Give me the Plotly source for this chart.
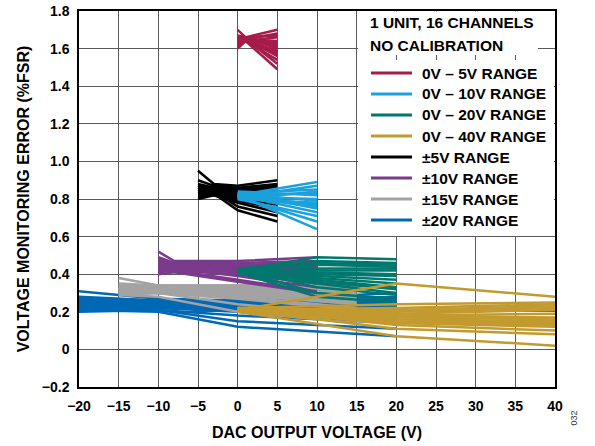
import plotly.graph_objects as go

# ---- measured error (%FSR) per output range, 16 channels each ----
X_0_5 = [0, 1, 5]
Y_0_5 = [
    [1.63, 1.66, 1.70], [1.66, 1.65, 1.68], [1.70, 1.66, 1.67], [1.62, 1.64, 1.66],
    [1.64, 1.65, 1.64], [1.61, 1.64, 1.63], [1.65, 1.66, 1.62], [1.63, 1.65, 1.61],
    [1.67, 1.66, 1.60], [1.62, 1.64, 1.59], [1.64, 1.65, 1.58], [1.60, 1.64, 1.57],
    [1.66, 1.65, 1.56], [1.63, 1.64, 1.54], [1.65, 1.65, 1.52], [1.62, 1.64, 1.49],
]

X_0_10 = [0, 10]
Y_0_10 = [
    [0.82, 0.89], [0.81, 0.87], [0.83, 0.85], [0.80, 0.84],
    [0.82, 0.83], [0.84, 0.82], [0.81, 0.80], [0.83, 0.79],
    [0.80, 0.78], [0.82, 0.77], [0.81, 0.76], [0.83, 0.75],
    [0.82, 0.73], [0.80, 0.71], [0.81, 0.68], [0.82, 0.64],
]

X_0_20 = [0, 10, 20]
Y_0_20 = [
    [0.42, 0.49, 0.48], [0.41, 0.47, 0.46], [0.43, 0.46, 0.45], [0.42, 0.45, 0.44],
    [0.41, 0.43, 0.43], [0.42, 0.42, 0.42], [0.43, 0.41, 0.40], [0.41, 0.40, 0.39],
    [0.42, 0.39, 0.37], [0.40, 0.38, 0.35], [0.41, 0.37, 0.33], [0.42, 0.36, 0.32],
    [0.41, 0.35, 0.30], [0.43, 0.33, 0.29], [0.42, 0.30, 0.27], [0.41, 0.28, 0.25],
]

X_0_40 = [0, 20, 40]
Y_0_40 = [
    [0.21, 0.35, 0.28], [0.22, 0.24, 0.25], [0.21, 0.22, 0.24], [0.20, 0.21, 0.23],
    [0.21, 0.20, 0.22], [0.22, 0.19, 0.21], [0.21, 0.18, 0.19], [0.20, 0.18, 0.17],
    [0.21, 0.17, 0.16], [0.22, 0.16, 0.15], [0.21, 0.15, 0.14], [0.20, 0.15, 0.13],
    [0.21, 0.14, 0.12], [0.22, 0.13, 0.10], [0.21, 0.11, 0.08], [0.20, 0.07, 0.02],
]

X_PM5 = [-5, -3, 0, 5]
Y_PM5 = [
    [0.95, 0.88, 0.87, 0.90], [0.90, 0.87, 0.86, 0.88], [0.88, 0.86, 0.85, 0.87], [0.87, 0.86, 0.85, 0.86],
    [0.86, 0.85, 0.84, 0.85], [0.85, 0.85, 0.84, 0.84], [0.84, 0.84, 0.83, 0.83], [0.83, 0.84, 0.83, 0.82],
    [0.82, 0.83, 0.82, 0.81], [0.81, 0.83, 0.82, 0.80], [0.86, 0.84, 0.81, 0.79], [0.84, 0.83, 0.80, 0.77],
    [0.82, 0.82, 0.79, 0.75], [0.80, 0.82, 0.78, 0.73], [0.87, 0.84, 0.76, 0.71], [0.85, 0.83, 0.74, 0.68],
]

X_PM10 = [-10, -8, 0, 10]
Y_PM10 = [
    [0.52, 0.47, 0.47, 0.49], [0.49, 0.46, 0.46, 0.47], [0.47, 0.46, 0.45, 0.46], [0.46, 0.45, 0.45, 0.45],
    [0.45, 0.45, 0.44, 0.44], [0.44, 0.44, 0.44, 0.43], [0.43, 0.44, 0.43, 0.42], [0.42, 0.43, 0.43, 0.41],
    [0.48, 0.45, 0.42, 0.40], [0.46, 0.44, 0.42, 0.39], [0.44, 0.44, 0.41, 0.38], [0.43, 0.43, 0.41, 0.37],
    [0.41, 0.42, 0.40, 0.35], [0.45, 0.43, 0.39, 0.33], [0.42, 0.42, 0.37, 0.31], [0.40, 0.41, 0.36, 0.30],
]

X_PM15 = [-15, -10, 0, 15]
Y_PM15 = [
    [0.38, 0.34, 0.34, 0.35], [0.35, 0.34, 0.34, 0.34], [0.34, 0.33, 0.33, 0.33], [0.33, 0.33, 0.33, 0.32],
    [0.33, 0.32, 0.32, 0.31], [0.32, 0.32, 0.32, 0.30], [0.31, 0.32, 0.31, 0.29], [0.31, 0.31, 0.31, 0.28],
    [0.30, 0.31, 0.30, 0.27], [0.32, 0.31, 0.30, 0.26], [0.30, 0.30, 0.29, 0.25], [0.31, 0.30, 0.29, 0.24],
    [0.29, 0.30, 0.28, 0.22], [0.30, 0.30, 0.27, 0.21], [0.32, 0.30, 0.24, 0.18], [0.29, 0.28, 0.20, 0.14],
]

X_PM20 = [-20, -10, 0, 20]
Y_PM20 = [
    [0.31, 0.27, 0.26, 0.30], [0.28, 0.26, 0.26, 0.28], [0.27, 0.26, 0.25, 0.27], [0.26, 0.25, 0.25, 0.26],
    [0.25, 0.25, 0.24, 0.25], [0.25, 0.24, 0.24, 0.24], [0.24, 0.24, 0.24, 0.23], [0.23, 0.24, 0.23, 0.22],
    [0.23, 0.23, 0.23, 0.21], [0.22, 0.23, 0.22, 0.20], [0.24, 0.23, 0.22, 0.19], [0.21, 0.22, 0.21, 0.18],
    [0.22, 0.22, 0.20, 0.16], [0.20, 0.21, 0.18, 0.14], [0.23, 0.21, 0.15, 0.11], [0.21, 0.20, 0.12, 0.07],
]

X_TICKS = [-20, -15, -10, -5, 0, 5, 10, 15, 20, 25, 30, 35, 40]
Y_TICKS = [-0.2, 0, 0.2, 0.4, 0.6, 0.8, 1.0, 1.2, 1.4, 1.6, 1.8]
Y_TICK_TEXT = ["\u22120.2", "0", "0.2", "0.4", "0.6", "0.8", "1.0", "1.2", "1.4", "1.6", "1.8"]

LEGEND_TITLE = ["1 UNIT, 16 CHANNELS", "NO CALIBRATION"]

# (name, x, channels, colour); listed in drawing order
RANGES = [
    ("\u00b120V RANGE", X_PM20, Y_PM20, "#0068B4"),
    ("\u00b115V RANGE", X_PM15, Y_PM15, "#A3A3A3"),
    ("\u00b110V RANGE", X_PM10, Y_PM10, "#7B3B8C"),
    ("\u00b15V RANGE", X_PM5, Y_PM5, "#000000"),
    ("0V \u2013 5V RANGE", X_0_5, Y_0_5, "#A51B4A"),
    ("0V \u2013 10V RANGE", X_0_10, Y_0_10, "#1BA1DB"),
    ("0V \u2013 20V RANGE", X_0_20, Y_0_20, "#00786E"),
    ("0V \u2013 40V RANGE", X_0_40, Y_0_40, "#C39A2F"),
]
LEGEND_ORDER = [
    "0V \u2013 5V RANGE", "0V \u2013 10V RANGE", "0V \u2013 20V RANGE", "0V \u2013 40V RANGE",
    "\u00b15V RANGE", "\u00b110V RANGE", "\u00b115V RANGE", "\u00b120V RANGE",
]

FONT = "Liberation Sans, Arial, sans-serif"
W, H = 595, 446
ML, MR, MT, MB = 79, 40, 11, 59
PW, PH = W - ML - MR, H - MT - MB


def px(xpix):
    """pixel column -> paper x"""
    return (xpix - ML) / PW


def py(ypix):
    """pixel row -> paper y"""
    return (H - MB - ypix) / PH


fig = go.Figure()
for name, xs, channels, colour in RANGES:
    for ys in channels:
        fig.add_trace(go.Scatter(
            x=xs, y=ys, mode="lines", name=name,
            line=dict(color=colour, width=2.5),
            showlegend=False, hoverinfo="skip",
        ))

axis_common = dict(
    automargin=False,
    showgrid=True, gridcolor="#5a5a5a", gridwidth=1,
    zeroline=False, showline=True, linecolor="#000000", linewidth=1.5,
    mirror=True, ticks="outside", ticklen=5, tickcolor="rgba(0,0,0,0)",
    tickfont=dict(family=FONT, size=14, color="#000000", weight="bold"),
)

fig.update_layout(
    width=W, height=H,
    margin=dict(l=ML, r=MR, t=MT, b=MB),
    paper_bgcolor="#ffffff", plot_bgcolor="#ffffff",
    showlegend=False,
    xaxis=dict(
        range=[-20, 40], tickvals=X_TICKS,
        title=dict(text="DAC OUTPUT VOLTAGE (V)", standoff=14,
                   font=dict(family=FONT, size=16, color="#000000", weight="bold")),
        **axis_common,
    ),
    yaxis=dict(
        range=[-0.2, 1.8], tickvals=Y_TICKS, ticktext=Y_TICK_TEXT,
        title=dict(text="VOLTAGE MONITORING ERROR (%FSR)", standoff=8,
                   font=dict(family=FONT, size=16, color="#000000", weight="bold")),
        **axis_common,
    ),
)

# key panel: white boxes over the grid, then swatches and labels
shapes = [
    dict(type="rect", xref="paper", yref="paper", layer="above",
         x0=px(358), x1=px(538), y0=py(55), y1=py(11.5),
         fillcolor="#ffffff", line=dict(width=0)),
    dict(type="rect", xref="paper", yref="paper", layer="above",
         x0=px(358), x1=px(554), y0=py(236), y1=py(60),
         fillcolor="#ffffff", line=dict(width=0)),
]
colour_of = {name: colour for name, _, _, colour in RANGES}
annotations = []
for i, line in enumerate(LEGEND_TITLE):
    annotations.append(dict(
        text=line, xref="paper", yref="paper", x=px(368), y=py(22 + 23 * i),
        xanchor="left", yanchor="middle", showarrow=False,
        font=dict(family=FONT, size=15.5, color="#000000", weight="bold"),
    ))
for i, name in enumerate(LEGEND_ORDER):
    yrow = 73 + 21 * i
    shapes.append(dict(
        type="line", xref="paper", yref="paper", layer="above",
        x0=px(371), x1=px(412), y0=py(yrow), y1=py(yrow),
        line=dict(color=colour_of[name], width=3),
    ))
    annotations.append(dict(
        text=name, xref="paper", yref="paper", x=px(420), y=py(yrow),
        xanchor="left", yanchor="middle", showarrow=False,
        font=dict(family=FONT, size=15.5, color="#000000", weight="bold"),
    ))

annotations.append(dict(
    text="032", xref="paper", yref="paper", x=px(580), y=py(428),
    showarrow=False, textangle=-90,
    font=dict(family=FONT, size=9, color="#333333"),
))

fig.update_layout(shapes=shapes, annotations=annotations)

fig.write_html("out.html")
